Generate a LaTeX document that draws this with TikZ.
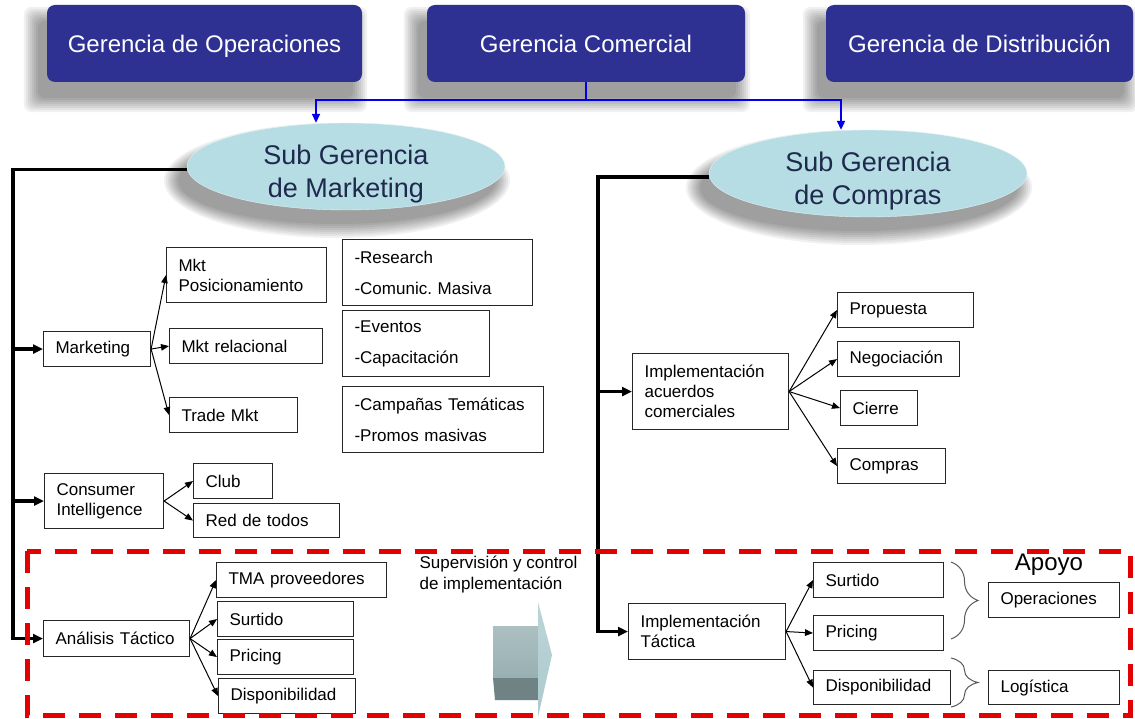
\documentclass[tikz,border=0pt]{standalone}
\usepackage{fontspec}
\setmainfont{Liberation Sans}
\frenchspacing
\usetikzlibrary{arrows.meta, shapes.geometric, backgrounds, decorations.pathreplacing}

\definecolor{navy}{RGB}{46,49,146}
\definecolor{subfill}{RGB}{183,221,228}
\definecolor{subtext}{RGB}{31,41,77}
\definecolor{zonered}{RGB}{226,0,0}
\definecolor{bluelink}{RGB}{0,0,235}
\definecolor{llavegris}{RGB}{90,90,90}
\definecolor{flechacara}{RGB}{152,176,179}
\definecolor{flechabase}{RGB}{111,131,133}
\definecolor{flechapunta}{RGB}{172,202,206}

\begin{document}
\begin{tikzpicture}[
    x=1pt, y=-1pt,
    gerencia/.style={rectangle, rounded corners=8pt, fill=navy, text=white,
                minimum height=77pt, text depth=0pt, font=\fontsize{24}{28}\selectfont},
    subger/.style={ellipse, fill=subfill, draw=white!60!subfill, inner sep=0pt,
                minimum width=318pt, minimum height=87pt},
    subletra/.style={align=center, text=subtext, inner sep=0pt, font=\fontsize{27}{33}\selectfont},
    box/.style={rectangle, draw=black!85, line width=1.1pt, fill=white, anchor=north west,
                inner xsep=12pt, inner ysep=0pt, align=left, font=\fontsize{17}{20}\selectfont},
    sombra/.style={fill=black, opacity=0.055},
    trunk/.style={line width=3.3pt, -{Triangle[length=10pt, width=9pt]}},
    rama/.style={line width=1pt, -{Triangle[length=8pt, width=6.5pt]}},
    bluearrow/.style={draw=bluelink, line width=2pt, -{Triangle[length=9pt, width=8pt]}},
    llave/.style={draw=llavegris, line width=1pt, decorate, decoration={brace, amplitude=27pt}},
    zona/.style={draw=zonered, line width=5pt, dash pattern=on 22pt off 14pt}
]
    \useasboundingbox (0,0) rectangle (1135,719);

    % Gerencias
    \node[gerencia, minimum width=315pt] (operaciones) at (204.5,43.5) {Gerencia de Operaciones};
    \node[gerencia, minimum width=318pt] (comercial) at (586,43.5) {Gerencia Comercial};
    \node[gerencia, minimum width=307pt] (distribucion) at (979.5,43.5) {Gerencia de Distribución};

    % Sub gerencias
    \node[subger, label={[subletra, yshift=-7.5pt]center:{Sub Gerencia\\de Marketing}}] (sgm) at (346,166.5) {};
    \node[subger, label={[subletra, yshift=-8pt]center:{Sub Gerencia\\de Compras}}] (sgc) at (868,173.5) {};

    % Enlace azul
    \coordinate (bjunta) at ([yshift=-18pt]comercial.south);
    \draw[draw=bluelink, line width=2pt] (comercial.south) -- (bjunta);
    \draw[bluearrow] (bjunta) -| ([xshift=-30pt]sgm.north);
    \draw[bluearrow] (bjunta) -| ([xshift=-27pt]sgc.north);

    % Marketing
    \node[box, text width=83pt, minimum height=35pt] (mkt) at (43,331) {Marketing};
    \node[box, text width=136pt, minimum height=55pt] (pos) at (166,247) {Mkt\\Posicionamiento};
    \node[box, text width=129pt, minimum height=35pt] (rel) at (169,328) {Mkt relacional};
    \node[box, text width=104pt, minimum height=35pt] (trade) at (169,397) {Trade Mkt};
    \node[box, text width=166pt, minimum height=66pt] (research) at (342,239) {-Research\\[11pt]-Comunic. Masiva};
    \node[box, text width=123pt, minimum height=66pt] (eventos) at (342,310) {-Eventos\\[11pt]-Capacitación};
    \node[box, text width=177pt, minimum height=66pt] (campanas) at (342,386) {-Campañas Temáticas\\[11pt]-Promos masivas};

    % Consumer Intelligence
    \node[box, text width=95pt, minimum height=55pt] (ci) at (44,473) {Consumer\\Intelligence};
    \node[box, text width=55pt, minimum height=35pt] (club) at (193,463) {Club};
    \node[box, text width=122pt, minimum height=34pt] (red) at (193,503) {Red de todos};

    % Analisis tactico
    \node[box, text width=122pt, minimum height=36pt] (ana) at (43,620) {Análisis Táctico};
    \node[box, text width=146pt, minimum height=35pt] (tma) at (216,562) {TMA proveedores};
    \node[box, text width=112pt, minimum height=35pt] (sur1) at (217,601) {Surtido};
    \node[box, text width=112pt, minimum height=35pt] (pri1) at (217,639) {Pricing};
    \node[box, text width=113pt, minimum height=35pt] (dis1) at (218,678) {Disponibilidad};

    % Acuerdos comerciales
    \node[box, text width=132pt, minimum height=76pt] (iac) at (632,353) {Implementación\\acuerdos\\comerciales};
    \node[box, text width=112pt, minimum height=35pt] (pro) at (837,292) {Propuesta};
    \node[box, text width=98pt, minimum height=35pt] (neg) at (837,341) {Negociación};
    \node[box, text width=53pt, minimum height=35pt] (cie) at (840,390) {Cierre};
    \node[box, text width=84pt, minimum height=35pt] (com) at (837,448) {Compras};

    % Implementacion tactica
    \node[box, text width=133pt, minimum height=56pt] (ita) at (628,603) {Implementación\\Táctica};
    \node[box, text width=106pt, minimum height=35pt] (sur2) at (813,562) {Surtido};
    \node[box, text width=106pt, minimum height=35pt] (pri2) at (813,615) {Pricing};
    \node[box, text width=113pt, minimum height=34pt] (dis2) at (813,670) {Disponibilidad};
    \node[box, text width=107pt, minimum height=35pt] (ope) at (988,582) {Operaciones};
    \node[box, text width=107pt, minimum height=34pt] (log) at (988,670) {Logística};
    \node[font=\fontsize{24}{28}\selectfont, inner sep=0pt] (apoyo) at (1049,565) {Apoyo};

    % Supervision
    \node[align=left, inner sep=0pt, font=\fontsize{17}{21}\selectfont] (superv) at (498.5,575)
        {Supervisión y control\\de implementación};
    \shade[top color=flechacara!80!white, bottom color=flechacara] (493,626) rectangle (538,678);
    \fill[flechabase] (493,678) -- (538,678) -- (538,700) -- (495,700) -- cycle;
    \shade[top color=flechapunta!80!white, bottom color=flechapunta] (538,602) -- (552,655) -- (538,717) -- cycle;

    % Troncos
    \coordinate (railL) at (13,0);
    \coordinate (railR) at (598,0);
    \draw[trunk] ([yshift=-3pt]sgm.west) -| (railL |- ana.west) -- (ana.west);
    \draw[trunk] (railL |- mkt.west) -- (mkt.west);
    \draw[trunk] (railL |- ci.west) -- (ci.west);
    \draw[trunk] ([yshift=-3.5pt]sgc.west) -| (railR |- ita.west) -- (ita.west);
    \draw[trunk] (railR |- iac.west) -- (iac.west);

    % Ramas
    \foreach \hijo in {pos, rel, trade}
        \draw[rama] (mkt.east) -- (\hijo.west);
    \foreach \hijo in {club, red}
        \draw[rama] (ci.east) -- (\hijo.west);
    \foreach \hijo in {tma, sur1, pri1, dis1}
        \draw[rama] (ana.east) -- (\hijo.west);
    \foreach \hijo in {pro, neg, cie, com}
        \draw[rama] (iac.east) -- (\hijo.west);
    \foreach \hijo in {sur2, pri2, dis2}
        \draw[rama] (ita.east) -- (\hijo.west);

    % Llaves de apoyo
    \coordinate (ll1a) at (951,562);
    \coordinate (ll1b) at (951,639);
    \coordinate (ll2a) at (951,658);
    \coordinate (ll2b) at (951,707);
    \draw[llave] (ll1a) -- (ll1b);
    \draw[llave] (ll2a) -- (ll2b);

    % Zona de apoyo
    \draw[zona] (27,551) rectangle (1130,715);

    % Fondo y sombras
    \begin{scope}[on background layer]
        \fill[white] (0,0) rectangle (1135,719);
        \foreach \g in {operaciones, comercial, distribucion}
            \foreach \d in {0,2,...,14}
                \fill[sombra, rounded corners=8pt] ([shift={(-9-\d,16+\d)}]\g.south west)
                    rectangle ([shift={(-9+\d,16-\d)}]\g.north east);
        \foreach \s in {sgm, sgc}
            \foreach \d in {0,2,...,14}
                \fill[sombra] ([shift={(-9,14)}]\s.center) ellipse [x radius=159+\d, y radius=43.5+\d];
    \end{scope}

\end{tikzpicture}
\end{document}
